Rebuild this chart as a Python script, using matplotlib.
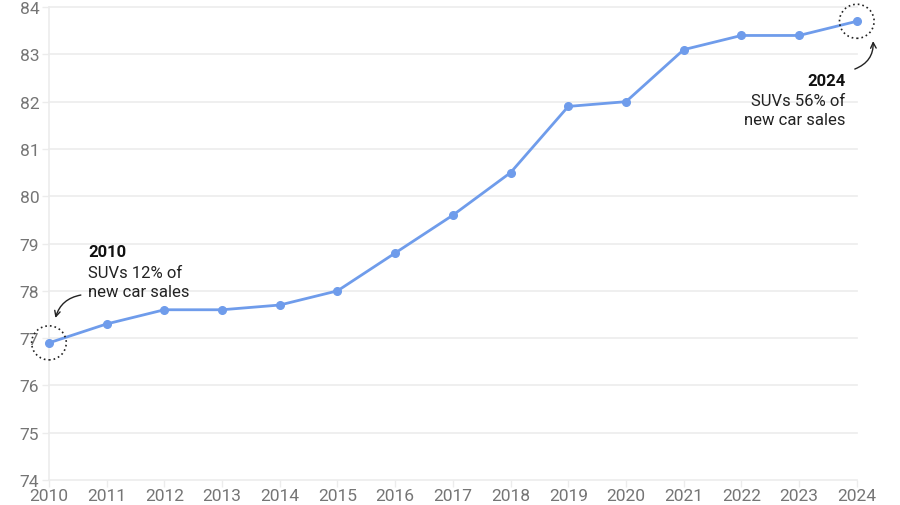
import matplotlib.pyplot as plt
from matplotlib.patches import Ellipse

plt.rcParams['font.family'] = ['Roboto', 'DejaVu Sans']

years = [2010, 2011, 2012, 2013, 2014, 2015, 2016, 2017, 2018, 2019, 2020, 2021, 2022, 2023, 2024]
values = [76.9, 77.3, 77.6, 77.6, 77.7, 78.0, 78.8, 79.6, 80.5, 81.9, 82.0, 83.1, 83.4, 83.4, 83.7]
y_ticks = [74, 75, 76, 77, 78, 79, 80, 81, 82, 83, 84]

line_color = '#6f9ceb'
grid_color = '#ececec'
label_color = '#757575'

fig = plt.figure(figsize=(9, 5.06), dpi=100)
ax = fig.add_axes([0.0544, 0.0494, 0.8976, 0.9346])

ax.plot(years, values, color=line_color, linewidth=2.0, marker='o', markersize=5.5,
        zorder=3, clip_on=False)

ax.set_xlim(years[0], years[-1])
ax.set_ylim(y_ticks[0], y_ticks[-1])
ax.set_xticks(years)
ax.set_yticks(y_ticks)

for y in y_ticks:
    ax.axhline(y, color=grid_color, linewidth=1.2, zorder=0, clip_on=False)
for s in ['top', 'right', 'bottom']:
    ax.spines[s].set_visible(False)
ax.spines['left'].set_color(grid_color)
ax.spines['left'].set_linewidth(1.2)

ax.tick_params(axis='both', colors=grid_color, labelcolor=label_color, labelsize=12.5, length=5, width=1)
ax.tick_params(axis='x', pad=1)
ax.tick_params(axis='y', pad=2)

# dotted circles around first and last points
for x, y in [(years[0], values[0]), (years[-1], values[-1])]:
    ax.add_patch(Ellipse((x, y), width=0.6, height=0.72, fill=False, edgecolor='#222222',
                         linestyle=(0, (1.0, 1.8)), linewidth=1.2, clip_on=False, zorder=4))

# annotations
ax.text(2010.68, 78.74, '2010', fontsize=12, fontweight='bold', color='#111111', ha='left', va='baseline')
ax.text(2010.68, 78.30, 'SUVs 12% of', fontsize=12, color='#222222', ha='left', va='baseline')
ax.text(2010.68, 77.90, 'new car sales', fontsize=12, color='#222222', ha='left', va='baseline')
ax.annotate('', xy=(2010.1, 77.37), xytext=(2010.6, 77.92),
            arrowprops=dict(arrowstyle='->', color='#222222', lw=1, connectionstyle='arc3,rad=0.35'))

ax.text(2023.80, 82.35, '2024', fontsize=12, fontweight='bold', color='#111111', ha='right', va='baseline')
ax.text(2023.80, 81.93, 'SUVs 56% of', fontsize=12, color='#222222', ha='right', va='baseline')
ax.text(2023.80, 81.53, 'new car sales', fontsize=12, color='#222222', ha='right', va='baseline')
ax.annotate('', xy=(2024.28, 83.34), xytext=(2023.92, 82.67),
            arrowprops=dict(arrowstyle='->', color='#222222', lw=1, connectionstyle='arc3,rad=0.4'),
            annotation_clip=False)

fig.savefig('out.png', dpi=100)
